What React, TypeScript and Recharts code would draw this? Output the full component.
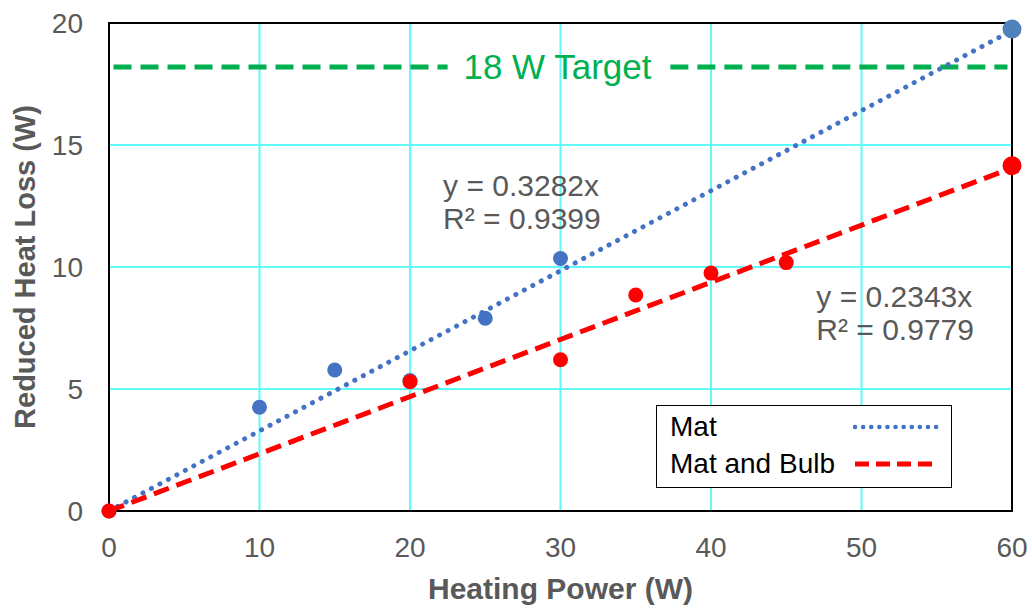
import React from 'react'
import {
  ComposedChart,
  XAxis,
  YAxis,
  CartesianGrid,
  Scatter,
  Line,
  ReferenceLine,
  ReferenceDot,
  ReferenceArea,
  Legend,
} from 'recharts'

const FONT = '"Liberation Sans", Arial, sans-serif'
const GRAY = '#595959'
const BLUE = '#4472C4'
const RED = '#FF0000'
const GREEN = '#00B050'

// measured points
const matPoints = [
  { x: 0, y: 0 },
  { x: 10, y: 4.25 },
  { x: 15, y: 5.78 },
  { x: 20, y: 5.35 },
  { x: 25, y: 7.9 },
  { x: 30, y: 10.35 },
]
const matEnd = [{ x: 60, y: 19.75 }]
const bulbPoints = [
  { x: 0, y: 0 },
  { x: 20, y: 5.3 },
  { x: 30, y: 6.2 },
  { x: 35, y: 8.85 },
  { x: 40, y: 9.75 },
  { x: 45, y: 10.18 },
]
const bulbEnd = [{ x: 60, y: 14.15 }]

// trendline end points
const matTrend = [
  { x: 0, y: 0 },
  { x: 60, y: 19.69 },
]
const bulbTrend = [
  { x: 0, y: 0 },
  { x: 60, y: 14.06 },
]

const xTicks = [0, 10, 20, 30, 40, 50, 60]
const yTicks = [0, 5, 10, 15, 20]
const targetValue = 18.2
const targetText = '18 W Target'
const matEquation = ['y = 0.3282x', 'R² = 0.9399']
const bulbEquation = ['y = 0.2343x', 'R² = 0.9779']

const dot = (r: number, fill: string) => (p: any) =>
  <circle cx={p.cx} cy={p.cy} r={r} fill={fill} />

const equationLabel = (lines: string[]) => (props: any) => {
  const { x, y } = props.viewBox
  return (
    <text x={x} y={y} fill={GRAY} fontSize={30} fontFamily={FONT}>
      {lines.map((l, i) => (
        <tspan key={i} x={x} dy={i === 0 ? 0 : 33}>
          {l}
        </tspan>
      ))}
    </text>
  )
}

const LegendBox = () => (
  <div
    style={{
      width: 296,
      height: 83,
      boxSizing: 'border-box',
      border: '1.5px solid #000',
      background: '#fff',
      fontFamily: FONT,
      fontSize: 28,
      color: '#000',
      position: 'relative',
    }}
  >
    {[
      { name: 'Mat', color: BLUE, dash: '0.1 8', cap: 'round', w: 4.5 },
      { name: 'Mat and Bulb', color: RED, dash: '14 7', cap: 'butt', w: 5 },
    ].map((s, i) => (
      <div key={s.name} style={{ position: 'absolute', left: 13, top: 3 + i * 37, height: 36, display: 'flex', alignItems: 'center' }}>
        <span style={{ width: 183 }}>{s.name}</span>
        <svg width={86} height={12}>
          <line x1={2} y1={6} x2={84} y2={6} stroke={s.color} strokeWidth={s.w} strokeDasharray={s.dash} strokeLinecap={s.cap as any} />
        </svg>
      </div>
    ))}
  </div>
)

export default function App() {
  return (
    <div style={{ position: 'absolute', left: 0, top: 0, width: 1032, height: 608, background: '#fff' }}>
      <ComposedChart width={1032} height={608} margin={{ top: 23, right: 20, bottom: 0, left: 0 }}>
        <CartesianGrid stroke="#5FFBFB" strokeWidth={2} />
        <XAxis
          type="number"
          dataKey="x"
          domain={[0, 60]}
          ticks={xTicks}
          height={97}
          tickSize={0}
          tickMargin={26}
          axisLine={{ stroke: '#000', strokeWidth: 2 }}
          tick={{ fill: GRAY, fontSize: 28, fontFamily: FONT }}
          label={{
            value: 'Heating Power (W)',
            position: 'insideBottom',
            offset: 9,
            fill: GRAY,
            fontSize: 30,
            fontWeight: 'bold',
            fontFamily: FONT,
          }}
        />
        <YAxis
          type="number"
          dataKey="y"
          domain={[0, 20]}
          ticks={yTicks}
          width={109}
          tickSize={0}
          tickMargin={26}
          axisLine={{ stroke: '#000', strokeWidth: 2 }}
          tick={{ fill: GRAY, fontSize: 28, fontFamily: FONT }}
          label={{
            content: (props: any) => {
              const vb = props.viewBox
              const cx = 25
              const cy = vb.y + vb.height / 2
              return (
                <text
                  x={cx}
                  y={cy}
                  transform={`rotate(-90 ${cx} ${cy})`}
                  textAnchor="middle"
                  dominantBaseline="central"
                  fill={GRAY}
                  fontSize={29}
                  fontWeight="bold"
                  fontFamily={FONT}
                >
                  Reduced Heat Loss (W)
                </text>
              )
            },
          }}
        />
        <ReferenceArea x1={0} x2={60} y1={0} y2={20} fill="none" stroke="#000" strokeWidth={2} />
        <ReferenceLine
          segment={[{ x: 0.3, y: targetValue }, { x: 22.5, y: targetValue }]}
          stroke={GREEN}
          strokeWidth={5}
          strokeDasharray="18 9"
        />
        <ReferenceLine
          segment={[{ x: 37.3, y: targetValue }, { x: 59.7, y: targetValue }]}
          stroke={GREEN}
          strokeWidth={5}
          strokeDasharray="18 9"
        />
        <ReferenceDot
          x={29.8}
          y={targetValue}
          r={0}
          fill="none"
          stroke="none"
          label={{
            content: (props: any) => {
              const { x, y, width, height } = props.viewBox
              return (
                <text
                  x={x + (width || 0) / 2}
                  y={y + (height || 0) / 2}
                  textAnchor="middle"
                  dominantBaseline="central"
                  fill={GREEN}
                  fontSize={35}
                  fontFamily={FONT}
                >
                  {targetText}
                </text>
              )
            },
          }}
        />
        <ReferenceDot x={22.2} y={12.9} r={0} fill="none" stroke="none" label={{ content: equationLabel(matEquation) }} />
        <ReferenceDot x={47} y={8.36} r={0} fill="none" stroke="none" label={{ content: equationLabel(bulbEquation) }} />
        <Line
          data={matTrend}
          dataKey="y"
          stroke={BLUE}
          strokeWidth={5}
          strokeDasharray="0.1 9.5"
          strokeLinecap="round"
          dot={false}
          activeDot={false}
          legendType="none"
          isAnimationActive={false}
        />
        <Line
          data={bulbTrend}
          dataKey="y"
          stroke={RED}
          strokeWidth={5}
          strokeDasharray="16 8"
          dot={false}
          activeDot={false}
          legendType="none"
          isAnimationActive={false}
        />
        <Scatter name="Mat" data={matPoints} fill={BLUE} shape={dot(7.5, BLUE)} isAnimationActive={false} />
        <Scatter data={matEnd} fill="#4F81BD" shape={dot(9.5, '#4F81BD')} isAnimationActive={false} />
        <Scatter name="Mat and Bulb" data={bulbPoints} fill={RED} shape={dot(7.5, RED)} isAnimationActive={false} />
        <Scatter data={bulbEnd} fill={RED} shape={dot(9.5, RED)} isAnimationActive={false} />
        <Legend
          layout="vertical"
          align="center"
          verticalAlign="middle"
          content={() => <LegendBox />}
          wrapperStyle={{ position: 'absolute', left: 656, top: 405, width: 296, height: 83 }}
        />
      </ComposedChart>
    </div>
  )
}
